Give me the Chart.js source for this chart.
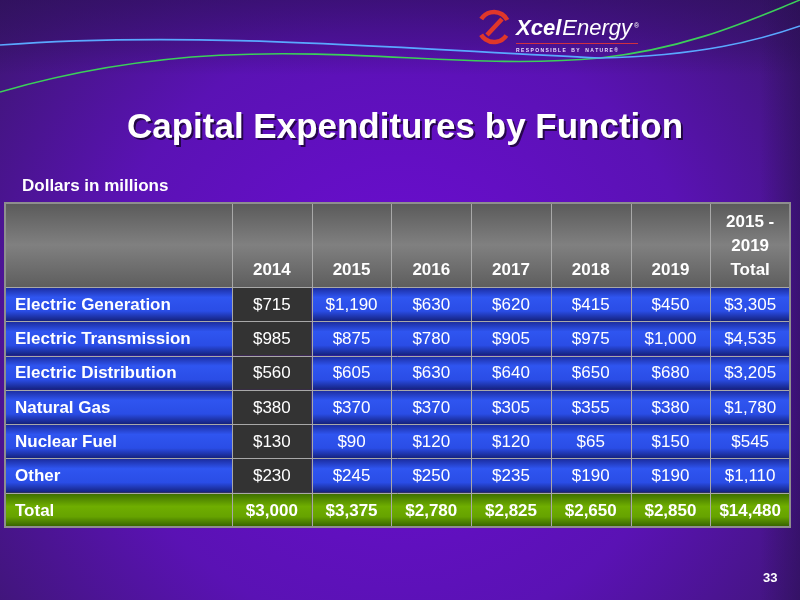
<!DOCTYPE html>
<html>
<head>
<meta charset="utf-8">
<script src="https://cdn.jsdelivr.net/npm/chart.js@4/dist/chart.umd.min.js"></script>
<style>
  html, body { margin: 0; padding: 0; background: #4a1a8a; }
  #wrap { width: 800px; height: 600px; position: relative; }
</style>
</head>
<body>
<div id="wrap"><canvas id="capex"></canvas></div>
<script>
const years = ['2014', '2015', '2016', '2017', '2018', '2019', '2015 -\n2019\nTotal'];
const functions = ['Electric Generation', 'Electric Transmission', 'Electric Distribution', 'Natural Gas', 'Nuclear Fuel', 'Other', 'Total'];
const electricGeneration = [715, 1190, 630, 620, 415, 450, 3305];
const electricTransmission = [985, 875, 780, 905, 975, 1000, 4535];
const electricDistribution = [560, 605, 630, 640, 650, 680, 3205];
const naturalGas = [380, 370, 370, 305, 355, 380, 1780];
const nuclearFuel = [130, 90, 120, 120, 65, 150, 545];
const other = [230, 245, 250, 235, 190, 190, 1110];
const totals = [3000, 3375, 2780, 2825, 2650, 2850, 14480];
const rows = [electricGeneration, electricTransmission, electricDistribution, naturalGas, nuclearFuel, other, totals];

const FONT = 'Liberation Sans, Arial, sans-serif';
const fmt = v => '$' + v.toLocaleString('en-US');

function vGrad(ctx, top, bottom, stops) {
  const g = ctx.createLinearGradient(0, top, 0, bottom);
  stops.forEach(([p, c]) => g.addColorStop(p, c));
  return g;
}

// fondo, titulo, logo
const slidePlugin = {
  id: 'slide',
  beforeDraw(chart) {
    const { ctx, width, height } = chart;
    ctx.save();
    const bg = ctx.createRadialGradient(400, 330, 40, 400, 330, 520);
    bg.addColorStop(0, '#6c0cd2');
    bg.addColorStop(0.55, '#5a12b4');
    bg.addColorStop(1, '#3c1670');
    ctx.fillStyle = bg;
    ctx.fillRect(0, 0, width, height);
    ctx.fillStyle = vGrad(ctx, 0, 75, [[0, 'rgba(40,15,80,0.55)'], [0.6, 'rgba(40,15,80,0.3)'], [1, 'rgba(40,15,80,0)']]);
    ctx.fillRect(0, 0, width, 75);
    const side = ctx.createLinearGradient(760, 0, 800, 0);
    side.addColorStop(0, 'rgba(40,15,80,0)');
    side.addColorStop(1, 'rgba(40,15,80,0.5)');
    ctx.fillStyle = side;
    ctx.fillRect(760, 0, 40, height);

    // swooshes
    ctx.lineWidth = 1.6;
    ctx.strokeStyle = '#3ccf5a';
    ctx.beginPath();
    ctx.moveTo(0, 92);
    ctx.bezierCurveTo(250, 20, 420, 75, 600, 58);
    ctx.bezierCurveTo(690, 48, 750, 20, 800, 0);
    ctx.stroke();
    ctx.strokeStyle = '#5aa8ff';
    ctx.beginPath();
    ctx.moveTo(0, 45);
    ctx.bezierCurveTo(200, 30, 420, 50, 600, 58);
    ctx.bezierCurveTo(700, 56, 760, 40, 800, 26);
    ctx.stroke();

    // logo
    ctx.strokeStyle = '#e0372a';
    ctx.lineWidth = 4.5;
    ctx.beginPath();
    ctx.ellipse(494, 27, 15, 15, 0, 0.6, 2.6);
    ctx.stroke();
    ctx.beginPath();
    ctx.ellipse(494, 27, 15, 15, 0, 3.7, 5.8);
    ctx.stroke();
    ctx.beginPath();
    ctx.moveTo(487, 35); ctx.lineTo(502, 19);
    ctx.stroke();
    ctx.fillStyle = '#ffffff';
    ctx.textBaseline = 'alphabetic';
    ctx.textAlign = 'left';
    ctx.font = 'italic bold 22px ' + FONT;
    ctx.fillText('Xcel', 516, 35);
    const w = ctx.measureText('Xcel').width;
    ctx.font = 'italic 22px ' + FONT;
    ctx.fillText('Energy', 516 + w + 1, 35);
    const w2 = ctx.measureText('Energy').width;
    ctx.font = '7px ' + FONT;
    ctx.fillText('®', 516 + w + w2 + 3, 28);
    ctx.fillStyle = '#d03040';
    ctx.fillRect(516, 43, 122, 1);
    ctx.fillStyle = '#e8dcff';
    ctx.font = 'bold 5px ' + FONT;
    ctx.fillText('R E S P O N S I B L E    B Y    N A T U R E ®', 516, 52);

    // titulo
    ctx.textAlign = 'center';
    ctx.font = 'bold 35px ' + FONT;
    ctx.fillStyle = 'rgba(0,0,0,0.6)';
    ctx.fillText('Capital Expenditures by Function', 407, 140);
    ctx.fillStyle = '#ffffff';
    ctx.fillText('Capital Expenditures by Function', 405, 138);
    ctx.textAlign = 'left';
    ctx.font = 'bold 17px ' + FONT;
    ctx.fillText('Dollars in millions', 22, 191);
    ctx.font = 'bold 13px ' + FONT;
    ctx.fillText('33', 763, 582);
    ctx.restore();
  }
};

// tabla dibujada con las escalas
const tablePlugin = {
  id: 'tabla',
  afterDatasetsDraw(chart) {
    const { ctx, scales: { x, y }, chartArea } = chart;
    const colW = x.getPixelForValue(1) - x.getPixelForValue(0);
    const rowH = y.getPixelForValue(1) - y.getPixelForValue(0);
    const tableLeft = 5;
    const headTop = 203;
    ctx.save();

    // encabezado
    ctx.fillStyle = vGrad(ctx, headTop, chartArea.top, [[0, '#5a5a5a'], [0.5, '#808080'], [1, '#5e5e5e']]);
    ctx.fillRect(tableLeft, headTop, chartArea.right - tableLeft, chartArea.top - headTop);
    ctx.fillStyle = '#ffffff';
    ctx.font = 'bold 17px ' + FONT;
    ctx.textAlign = 'center';
    ctx.textBaseline = 'middle';
    years.forEach((label, i) => {
      const cx = x.getPixelForValue(i);
      const lines = label.split('\n');
      lines.forEach((ln, k) => {
        ctx.fillText(ln, cx, chartArea.top - 17 - (lines.length - 1 - k) * 24);
      });
    });

    functions.forEach((name, r) => {
      const cy = y.getPixelForValue(r);
      const top = cy - rowH / 2;
      const bottom = cy + rowH / 2;
      const isTotal = r === functions.length - 1;
      const blue = vGrad(ctx, top, bottom, [[0, '#1a2a9a'], [0.3, '#2f55f0'], [0.7, '#2a4de6'], [1, '#14207a']]);
      const green = vGrad(ctx, top, bottom, [[0, '#3a6a00'], [0.4, '#6fae00'], [0.7, '#66a300'], [1, '#335e00']]);
      ctx.fillStyle = isTotal ? green : blue;
      ctx.fillRect(tableLeft, top, chartArea.left - tableLeft, rowH);
      ctx.fillStyle = '#ffffff';
      ctx.textAlign = 'left';
      ctx.font = 'bold 17px ' + FONT;
      ctx.fillText(name, 15, cy + 1);

      rows[r].forEach((v, c) => {
        const cx = x.getPixelForValue(c);
        let fill = isTotal ? green : blue;
        if (c === 0 && !isTotal) fill = '#333333';
        ctx.fillStyle = fill;
        ctx.fillRect(cx - colW / 2, top, colW, rowH);
        ctx.fillStyle = '#ffffff';
        ctx.textAlign = 'center';
        ctx.font = (isTotal ? 'bold ' : '') + '17px ' + FONT;
        ctx.fillText(fmt(v), cx, cy + 1);
      });
    });

    // lineas de la tabla
    ctx.strokeStyle = '#a8a8a8';
    ctx.lineWidth = 1;
    ctx.beginPath();
    for (let c = 0; c < years.length; c++) {
      const xl = Math.round(x.getPixelForValue(c) - colW / 2) + 0.5;
      ctx.moveTo(xl, headTop); ctx.lineTo(xl, chartArea.bottom);
    }
    for (let r = 0; r < functions.length; r++) {
      const yl = Math.round(y.getPixelForValue(r) - rowH / 2) + 0.5;
      ctx.moveTo(tableLeft, yl); ctx.lineTo(chartArea.right, yl);
    }
    ctx.stroke();
    ctx.lineWidth = 2;
    ctx.strokeStyle = '#8e8e8e';
    ctx.strokeRect(tableLeft, headTop, chartArea.right - tableLeft, chartArea.bottom - headTop);
    ctx.restore();
  }
};

new Chart(document.getElementById('capex'), {
  type: 'bar',
  data: {
    labels: years,
    datasets: [{ label: 'Total', data: totals, backgroundColor: 'rgba(0,0,0,0)' }]
  },
  options: {
    responsive: true,
    maintainAspectRatio: false,
    animation: false,
    layout: { padding: { top: 287, right: 10, bottom: 73, left: 232 } },
    scales: {
      x: { type: 'category', labels: years, display: false, offset: true, grid: { display: false } },
      y: { type: 'category', labels: functions, display: false, offset: true, grid: { display: false } }
    },
    plugins: { legend: { display: false }, tooltip: { enabled: false } }
  },
  plugins: [slidePlugin, tablePlugin]
});
</script>
</body>
</html>
